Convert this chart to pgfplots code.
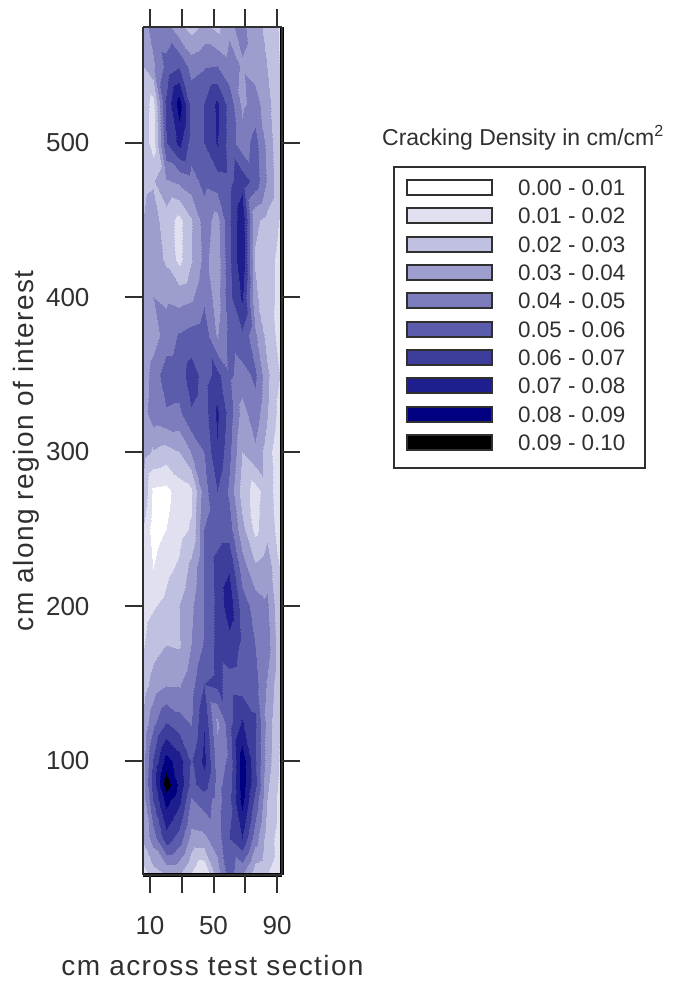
\documentclass[border=0pt]{standalone}
\usepackage{pgfplots}
\pgfplotsset{compat=1.18}
\usepackage{fontspec}
\setmainfont{Liberation Sans}
\newfontfamily\labfont[LetterSpace=5]{Liberation Sans}
\definecolor{ink}{HTML}{303030}
\definecolor{c0}{RGB}{255,255,255}
\definecolor{c1}{RGB}{224,224,240}
\definecolor{c2}{RGB}{192,192,224}
\definecolor{c3}{RGB}{157,157,206}
\definecolor{c4}{RGB}{125,125,189}
\definecolor{c5}{RGB}{92,92,173}
\definecolor{c6}{RGB}{61,61,156}
\definecolor{c7}{RGB}{30,30,142}
\definecolor{c8}{RGB}{0,0,128}
\definecolor{c9}{RGB}{0,0,0}
\begin{document}
\begin{tikzpicture}[x=1pt,y=1pt]
\path[use as bounding box] (0,0) rectangle (673,985);
\begin{axis}[
  at={(143pt,110pt)},anchor=south west,
  scale only axis,width=139pt,height=848pt,
  view={0}{90},
  xmin=5.6,xmax=93.15,ymin=26.2,ymax=575,
  axis line style={ink,line width=2.4pt},
  xtick={10,30,50,70,90},xticklabels={10,,50,,90},
  ytick={100,200,300,400,500},
  tick align=outside,
  major tick length=18pt,
  tick style={ink,line width=2pt},
  xticklabel style={font=\fontsize{26}{30}\selectfont,text=ink,yshift=-20pt},
  yticklabel style={font=\fontsize{26}{30}\selectfont,text=ink,xshift=-32pt},
  /pgf/number format/assume math mode=true,
  xlabel={cm across test section},
  ylabel={cm along region of interest},
  xlabel style={font=\labfont\fontsize{28}{32}\selectfont,text=ink,at={(axis description cs:0.5,0)},anchor=base,yshift=-100pt},
  ylabel style={font=\labfont\fontsize{28}{32}\selectfont,text=ink,at={(axis description cs:0,0.5)},anchor=base,yshift=109pt},
  point meta min=0,point meta max=10,
  colormap={crack}{color=(c0) color=(c1) color=(c2) color=(c3) color=(c4) color=(c5) color=(c6) color=(c7) color=(c8) color=(c9)},
  colormap access=piecewise constant,
  clip mode=individual,
]
\addplot3[contour filled={number=10},point meta=z,mesh/cols=12] table[row sep=\\]{
x y z\\
5.6 26.2 1.5\\ 12 26.2 2.5\\ 20 26.2 3.0\\ 28 26.2 3.0\\ 36 26.2 1.9\\ 44 26.2 0.8\\ 52 26.2 3.5\\ 60 26.2 5.5\\ 68 26.2 4.0\\ 76 26.2 2.3\\ 84 26.2 2.0\\ 93.15 26.2 1.5\\
5.6 50 3.2\\ 12 50 4.5\\ 20 50 6.6\\ 28 50 5.6\\ 36 50 3.7\\ 44 50 3.8\\ 52 50 4.5\\ 60 50 6.0\\ 68 50 7.0\\ 76 50 4.5\\ 84 50 2.5\\ 93.15 50 1.4\\
5.6 75 3.5\\ 12 75 6.0\\ 20 75 8.4\\ 28 75 7.3\\ 36 75 4.9\\ 44 75 5.5\\ 52 75 4.6\\ 60 75 5.7\\ 68 75 8.4\\ 76 75 5.7\\ 84 75 3.0\\ 93.15 75 1.4\\
5.6 85 3.7\\ 12 85 6.5\\ 20 85 9.6\\ 28 85 7.8\\ 36 85 5.7\\ 44 85 6.5\\ 52 85 4.7\\ 60 85 5.4\\ 68 85 8.6\\ 76 85 6.3\\ 84 85 3.2\\ 93.15 85 1.5\\
5.6 100 3.6\\ 12 100 6.1\\ 20 100 8.4\\ 28 100 7.5\\ 36 100 5.9\\ 44 100 7.3\\ 52 100 4.5\\ 60 100 5.2\\ 68 100 8.6\\ 76 100 6.2\\ 84 100 3.5\\ 93.15 100 1.6\\
5.6 125 3.2\\ 12 125 4.7\\ 20 125 6.0\\ 28 125 5.4\\ 36 125 4.9\\ 44 125 6.9\\ 52 125 3.8\\ 60 125 5.6\\ 68 125 7.1\\ 76 125 6.2\\ 84 125 3.6\\ 93.15 125 1.7\\
5.6 150 2.5\\ 12 150 3.4\\ 20 150 3.9\\ 28 150 3.9\\ 36 150 4.6\\ 44 150 6.0\\ 52 150 6.3\\ 60 150 5.6\\ 68 150 5.5\\ 76 150 5.4\\ 84 150 3.9\\ 93.15 150 1.9\\
5.6 175 1.9\\ 12 175 2.6\\ 20 175 3.0\\ 28 175 2.9\\ 36 175 4.0\\ 44 175 5.1\\ 52 175 6.3\\ 60 175 6.6\\ 68 175 5.8\\ 76 175 5.0\\ 84 175 4.5\\ 93.15 175 1.9\\
5.6 200 1.6\\ 12 200 1.9\\ 20 200 2.3\\ 28 200 3.0\\ 36 200 3.8\\ 44 200 5.0\\ 52 200 6.3\\ 60 200 7.6\\ 68 200 5.5\\ 76 200 4.6\\ 84 200 4.2\\ 93.15 200 1.8\\
5.6 225 1.4\\ 12 225 1.0\\ 20 225 1.7\\ 28 225 2.2\\ 36 225 3.3\\ 44 225 5.0\\ 52 225 6.4\\ 60 225 6.9\\ 68 225 4.5\\ 76 225 3.2\\ 84 225 3.6\\ 93.15 225 1.7\\
5.6 250 2.0\\ 12 250 0.5\\ 20 250 1.0\\ 28 250 1.6\\ 36 250 2.1\\ 44 250 5.0\\ 52 250 5.5\\ 60 250 5.5\\ 68 250 3.3\\ 76 250 1.7\\ 84 250 2.7\\ 93.15 250 1.3\\
5.6 275 2.9\\ 12 275 0.8\\ 20 275 0.7\\ 28 275 1.5\\ 36 275 1.8\\ 44 275 4.6\\ 52 275 6.0\\ 60 275 4.8\\ 68 275 2.5\\ 76 275 1.6\\ 84 275 2.5\\ 93.15 275 1.2\\
5.6 300 3.4\\ 12 300 2.9\\ 20 300 2.6\\ 28 300 3.0\\ 36 300 4.0\\ 44 300 5.0\\ 52 300 6.9\\ 60 300 5.3\\ 68 300 3.0\\ 76 300 3.8\\ 84 300 2.5\\ 93.15 300 0.9\\
5.6 325 3.6\\ 12 325 4.6\\ 20 325 4.9\\ 28 325 4.8\\ 36 325 5.9\\ 44 325 5.5\\ 52 325 7.2\\ 60 325 5.6\\ 68 325 3.6\\ 76 325 4.6\\ 84 325 3.1\\ 93.15 325 1.3\\
5.6 350 3.3\\ 12 350 4.5\\ 20 350 5.5\\ 28 350 5.5\\ 36 350 6.5\\ 44 350 5.6\\ 52 350 6.3\\ 60 350 5.2\\ 68 350 4.6\\ 76 350 5.2\\ 84 350 3.2\\ 93.15 350 1.8\\
5.6 375 3.0\\ 12 375 3.5\\ 20 375 4.5\\ 28 375 5.1\\ 36 375 5.4\\ 44 375 5.6\\ 52 375 3.9\\ 60 375 5.3\\ 68 375 5.8\\ 76 375 4.2\\ 84 375 2.6\\ 93.15 375 1.5\\
5.6 400 3.6\\ 12 400 4.0\\ 20 400 3.8\\ 28 400 3.6\\ 36 400 3.8\\ 44 400 4.8\\ 52 400 3.5\\ 60 400 5.7\\ 68 400 7.2\\ 76 400 3.2\\ 84 400 2.4\\ 93.15 400 1.6\\
5.6 425 3.4\\ 12 425 3.6\\ 20 425 2.8\\ 28 425 1.7\\ 36 425 2.9\\ 44 425 4.3\\ 52 425 3.4\\ 60 425 5.8\\ 68 425 7.9\\ 76 425 2.9\\ 84 425 2.4\\ 93.15 425 1.6\\
5.6 450 3.0\\ 12 450 3.4\\ 20 450 2.5\\ 28 450 1.7\\ 36 450 2.9\\ 44 450 4.5\\ 52 450 3.6\\ 60 450 5.8\\ 68 450 7.8\\ 76 450 3.2\\ 84 450 2.7\\ 93.15 450 1.8\\
5.6 475 2.8\\ 12 475 2.9\\ 20 475 3.9\\ 28 475 4.2\\ 36 475 4.6\\ 44 475 5.3\\ 52 475 5.6\\ 60 475 5.7\\ 68 475 6.6\\ 76 475 5.6\\ 84 475 3.9\\ 93.15 475 1.9\\
5.6 500 2.7\\ 12 500 1.5\\ 20 500 5.9\\ 28 500 7.3\\ 36 500 5.6\\ 44 500 6.0\\ 52 500 7.1\\ 60 500 5.6\\ 68 500 4.4\\ 76 500 5.4\\ 84 500 3.7\\ 93.15 500 1.8\\
5.6 525 2.6\\ 12 525 1.6\\ 20 525 6.2\\ 28 525 8.5\\ 36 525 5.7\\ 44 525 6.0\\ 52 525 7.2\\ 60 525 5.6\\ 68 525 3.8\\ 76 525 4.4\\ 84 525 3.4\\ 93.15 525 1.8\\
5.6 550 3.0\\ 12 550 3.8\\ 20 550 5.3\\ 28 550 5.9\\ 36 550 4.6\\ 44 550 4.9\\ 52 550 5.0\\ 60 550 4.4\\ 68 550 3.9\\ 76 550 3.6\\ 84 550 3.0\\ 93.15 550 1.8\\
5.6 575 3.5\\ 12 575 4.5\\ 20 575 4.4\\ 28 575 3.3\\ 36 575 2.6\\ 44 575 3.3\\ 52 575 2.7\\ 60 575 3.8\\ 68 575 4.3\\ 76 575 3.3\\ 84 575 2.8\\ 93.15 575 1.7\\
};
\draw[black,line width=4pt] (rel axis cs:1,0) -- (rel axis cs:1,1);
\draw[black,line width=3.5pt] (rel axis cs:0,0) -- (rel axis cs:1,0);
\end{axis}
\node[anchor=base,font=\fontsize{23}{27}\selectfont,text=ink] at (523,839) {Cracking Density in cm/cm\textsuperscript{2}};
\draw[ink,line width=1.8pt,fill=white] (394,517) rectangle (645,818);
\foreach \i/\lab/\yy in {0/0.00 - 0.01/797,1/0.01 - 0.02/769,2/0.02 - 0.03/740,3/0.03 - 0.04/712,4/0.04 - 0.05/684,5/0.05 - 0.06/655,6/0.06 - 0.07/627,7/0.07 - 0.08/599,8/0.08 - 0.09/570,9/0.09 - 0.10/542}{
  \draw[ink,line width=2pt,fill=c\i] (407,\yy-7.5) rectangle (492,\yy+7.5);
  \node[anchor=west,font=\fontsize{22.4}{26}\selectfont,text=ink,inner sep=0pt] at (518,\yy) {\lab};
}
\end{tikzpicture}
\end{document}
